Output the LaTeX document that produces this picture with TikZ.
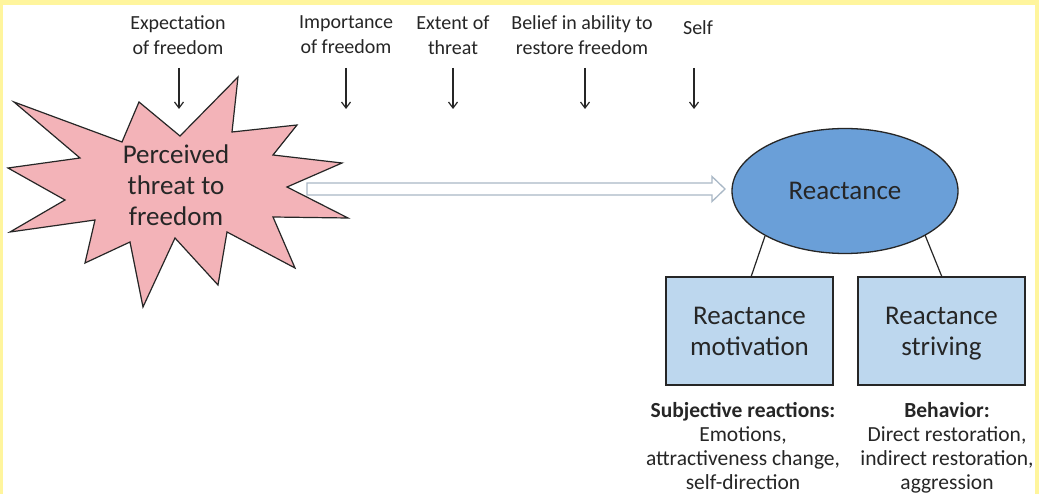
\documentclass[tikz,border=0pt]{standalone}
\usepackage{fontspec}
\setmainfont{Carlito}
\usetikzlibrary{arrows.meta,shapes.geometric,calc}
\definecolor{frameyel}{HTML}{FFF59D}
\definecolor{burstfill}{HTML}{F3B3B8}
\definecolor{ellfill}{HTML}{6A9FD8}
\definecolor{boxfill}{HTML}{BDD7EE}
\definecolor{hollowline}{HTML}{A9B8C6}
\definecolor{ink}{HTML}{262626}
\begin{document}
\begin{tikzpicture}[x=1pt,y=-1pt,
  toplabel/.style={align=center,font=\fontsize{20}{25}\selectfont,text=ink,inner sep=0pt},
  bigtext/.style={align=center,font=\fontsize{27}{31}\selectfont,text=ink,inner sep=0pt},
  botlabel/.style={align=center,font=\fontsize{21.5}{24}\selectfont,text=ink,inner sep=0pt},
  downarrow/.style={draw=ink,line width=1.2pt,-{Straight Barb[length=6pt,width=9pt,line width=1.2pt]}},
  boxnode/.style={draw=ink,line width=1.3pt,fill=boxfill,minimum width=167pt,minimum height=108pt,inner sep=0pt,
    align=center,font=\fontsize{27}{31}\selectfont,text=ink},
  link/.style={draw=ink,line width=1.2pt}
]
\useasboundingbox (0,0) rectangle (1039,494);
\fill[frameyel] (0,0) rectangle (1039,494);
\fill[white] (3,5) rectangle (1035,494);

% starburst
\filldraw[fill=burstfill,draw=ink,line width=1.2pt,line join=miter]
 (14,102) -- (122,142) -- (139,102) -- (180,136) -- (238,77) -- (232,132)
 -- (297,125) -- (273,155) -- (342,163) -- (287,187) -- (348,218) -- (273,217)
 -- (295,268) -- (227,232) -- (218,285) -- (175,238) -- (143,307) -- (130,242)
 -- (85,263) -- (95,220) -- (10,232) -- (65,200) -- (8,168) -- (80,158) -- cycle;
\node[bigtext] (threat) at (176,185) {Perceived\\threat to\\freedom};

% top labels
\node[toplabel] (expect) at (178,35) {Expectation\\of freedom};
\node[toplabel] (import) at (346,35) {Importance\\of freedom};
\node[toplabel] (extent) at (453,35) {Extent of\\threat};
\node[toplabel] (belief) at (582,35) {Belief in ability to\\restore freedom};
\node[toplabel] (self) at (698,28) {Self};

\coordinate (e1) at (179,68); \coordinate (e2) at (179,109);
\coordinate (i1) at (346,68); \coordinate (i2) at (346,109);
\coordinate (x1) at (453,68); \coordinate (x2) at (453,109);
\coordinate (b1) at (585,68); \coordinate (b2) at (585,109);
\coordinate (s1) at (694,68); \coordinate (s2) at (694,109);
\draw[downarrow] (e1) -- (e2);
\draw[downarrow] (i1) -- (i2);
\draw[downarrow] (x1) -- (x2);
\draw[downarrow] (b1) -- (b2);
\draw[downarrow] (s1) -- (s2);

% reactance ellipse
\node[ellipse,draw=ink,line width=1.3pt,fill=ellfill,minimum width=226pt,minimum height=125pt,inner sep=0pt,
  font=\fontsize{27}{31}\selectfont,text=ink] (react) at (845,191) {Reactance};

% hollow arrow
\coordinate (ha) at (307,189);
\filldraw[fill=white,draw=hollowline,line width=1.3pt,line join=miter]
 ($(ha)+(0,-6)$) -- (712,183) -- (712,176.5) -- (725,189) -- (712,201.5) -- (712,195) -- ($(ha)+(0,6)$) -- cycle;

% boxes
\node[boxnode] (motiv) at (749.5,331) {\rule{0pt}{28pt}Reactance\\motivation\strut};
\node[boxnode] (striv) at (941.5,331) {\rule{0pt}{28pt}Reactance\\striving\strut};

\draw[link] (765,236) -- (751,277);
\draw[link] (925,235) -- (942,277);

% bottom labels
\node[botlabel,anchor=north] (subj) at (743,402) {\textbf{Subjective reactions:}\\Emotions,\\attractiveness change,\\self-direction};
\node[botlabel,anchor=north] (behav) at (947,402) {\textbf{Behavior:}\\Direct restoration,\\indirect restoration,\\aggression};
\end{tikzpicture}
\end{document}
